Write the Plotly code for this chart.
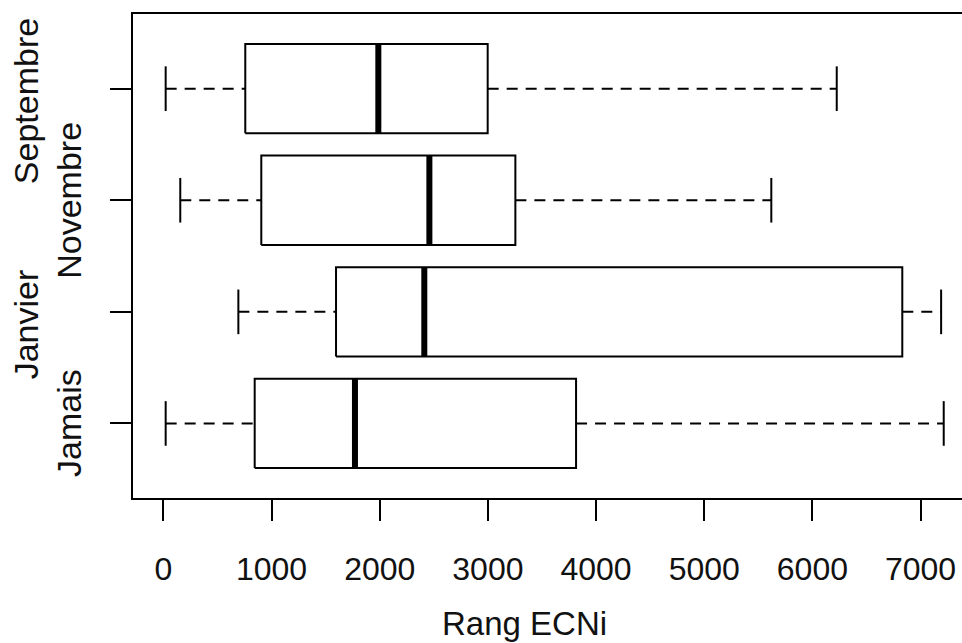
import plotly.graph_objects as go

# Data (bottom to top)
groups = ["Jamais", "Janvier", "Novembre", "Septembre"]
lower_whisker = [21, 693, 156, 21]
q1 = [844, 1596, 905, 757]
median = [1771, 2412, 2459, 1987]
q3 = [3815, 6831, 3254, 2998]
upper_whisker = [7214, 7190, 5620, 6225]
x_ticks = [0, 1000, 2000, 3000, 4000, 5000, 6000, 7000]
x_title = "Rang ECNi"

FONT = "Liberation Sans, Arial, sans-serif"
HALF = 0.4   # half box width
CAP = 0.2    # half cap width
BLACK = "#000000"

fig = go.Figure()
for i, g in enumerate(groups):
    y = i + 1
    # whiskers (dashed)
    fig.add_trace(go.Scatter(x=[lower_whisker[i], q1[i]], y=[y, y], mode="lines",
                             line=dict(color=BLACK, width=2, dash="11px,8px"), hoverinfo="skip"))
    fig.add_trace(go.Scatter(x=[q3[i], upper_whisker[i]], y=[y, y], mode="lines",
                             line=dict(color=BLACK, width=2, dash="11px,8px"), hoverinfo="skip"))
    # caps
    for w in (lower_whisker[i], upper_whisker[i]):
        fig.add_trace(go.Scatter(x=[w, w], y=[y - CAP, y + CAP], mode="lines",
                                 line=dict(color=BLACK, width=2), hoverinfo="skip"))
    # box
    fig.add_trace(go.Scatter(x=[q1[i], q3[i], q3[i], q1[i], q1[i]],
                             y=[y - HALF, y - HALF, y + HALF, y + HALF, y - HALF],
                             mode="lines", fill="toself", fillcolor="white",
                             line=dict(color=BLACK, width=2), name=g))
    # median
    fig.add_trace(go.Scatter(x=[median[i], median[i]], y=[y - HALF, y + HALF], mode="lines",
                             line=dict(color=BLACK, width=6), hoverinfo="skip"))

# y labels, staggered like R
for i, g in enumerate(groups):
    outer = (i % 2 == 1)
    fig.add_annotation(x=0, xref="paper", y=i + 1, yref="y", text=g, showarrow=False,
                       textangle=-90, xanchor="center", yanchor="middle",
                       xshift=-(133 - (25.5 if outer else 69.5)), yshift=(-13 if outer else 0),
                       font=dict(family=FONT, size=34, color="#111111"))

fig.add_annotation(x=0.472, xref="paper", y=0, yref="paper", yshift=-125, text=x_title,
                   showarrow=False, xanchor="center", yanchor="middle",
                   font=dict(family=FONT, size=33, color="#111111"))

fig.update_layout(
    width=962, height=643,
    margin=dict(l=133, r=0, t=14, b=145),
    plot_bgcolor="white", paper_bgcolor="white",
    showlegend=False,
    xaxis=dict(range=[-281, 7383], tickvals=x_ticks, ticks="outside", ticklen=21, tickwidth=2,
               tickcolor=BLACK, showline=True, linecolor=BLACK, linewidth=2, mirror=True,
               showgrid=False, zeroline=False, ticklabelstandoff=21,
               tickfont=dict(family=FONT, size=32, color="#111111")),
    yaxis=dict(range=[0.332, 4.669], tickvals=[1, 2, 3, 4], ticks="outside", ticklen=21, tickwidth=2,
               tickcolor=BLACK, showline=True, linecolor=BLACK, linewidth=2, mirror=False,
               showgrid=False, zeroline=False, showticklabels=False),
)

fig.write_html("out.html")
